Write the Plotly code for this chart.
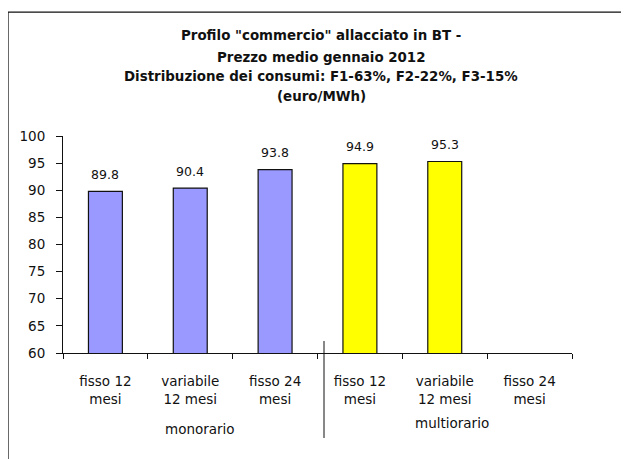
import plotly.graph_objects as go

categories = ["fisso 12 mesi (mono)", "variabile 12 mesi (mono)", "fisso 24 mesi (mono)",
              "fisso 12 mesi (multi)", "variabile 12 mesi (multi)", "fisso 24 mesi (multi)"]
tick_labels = ["fisso 12<br>mesi", "variabile<br>12 mesi", "fisso 24<br>mesi",
               "fisso 12<br>mesi", "variabile<br>12 mesi", "fisso 24<br>mesi"]
values = [89.8, 90.4, 93.8, 94.9, 95.3, None]
bar_colors = ["#9999FF", "#9999FF", "#9999FF", "#FFFF00", "#FFFF00", "#FFFF00"]
group_labels = ["monorario", "multiorario"]
title_lines = ['Profilo "commercio" allacciato in BT -',
               "Prezzo medio gennaio 2012",
               "Distribuzione dei consumi: F1-63%, F2-22%, F3-15%",
               "(euro/MWh)"]

FONT = "DejaVu Sans"
TXT = "#111111"

fig = go.Figure()
fig.add_trace(go.Bar(
    x=categories, y=values,
    marker=dict(color=bar_colors, line=dict(color="#111111", width=1.2)),
    width=0.4, hoverinfo="skip",
))

annotations = []
for c, v in zip(categories, values):
    if v is None:
        continue
    annotations.append(dict(x=c, y=v, xref="x", yref="y", text=f"{v:.1f}",
                            showarrow=False, yshift=17,
                            font=dict(family=FONT, size=12.5, color=TXT)))

# group labels
annotations.append(dict(x=1.11, y=-0.350, xref="x", yref="paper", text=group_labels[0],
                        xanchor="center", yanchor="middle", showarrow=False,
                        font=dict(family=FONT, size=13.5, color=TXT)))
annotations.append(dict(x=4.08, y=-0.3226, xref="x", yref="paper", text=group_labels[1],
                        xanchor="center", yanchor="middle", showarrow=False,
                        font=dict(family=FONT, size=13.5, color=TXT)))

# title lines
for line, yy in zip(title_lines, [1.461, 1.364, 1.276, 1.184]):
    annotations.append(dict(x=0.507, y=yy, xref="paper", yref="paper", text=f"<b>{line}</b>",
                            xanchor="center", yanchor="middle", showarrow=False,
                            font=dict(family=FONT, size=13.4, color=TXT)))

shapes = [
    # outer frame (extends beyond the image on right/bottom)
    dict(type="rect", xref="paper", yref="paper", x0=-0.108, x1=1.2, y0=-0.6, y1=1.571,
         line=dict(color="#111111", width=1.2), fillcolor="rgba(0,0,0,0)", layer="below"),
    # group divider
    dict(type="line", xref="paper", yref="paper", x0=0.5128, x1=0.5128, y0=0.0553, y1=-0.3917,
         line=dict(color="#111111", width=1)),
]

fig.update_layout(
    width=621, height=451,
    margin=dict(l=55, r=57, t=128, b=106),
    paper_bgcolor="white", plot_bgcolor="white",
    showlegend=False,
    annotations=annotations, shapes=shapes,
    font=dict(family=FONT, size=13, color=TXT),
)
fig.update_xaxes(
    type="category", range=[-0.5, 5.5],
    tickmode="array", tickvals=categories, ticktext=tick_labels,
    ticks="outside", ticklen=5, tickcolor="#111111", tickson="boundaries",
    showline=True, linecolor="#111111", linewidth=1,
    showgrid=False, zeroline=False,
    tickfont=dict(family=FONT, size=13.5, color=TXT),
    ticklabelstandoff=16,
)
fig.update_yaxes(
    range=[60, 100], dtick=5, tick0=60,
    ticks="outside", ticklen=6, tickcolor="#111111",
    showline=True, linecolor="#111111", linewidth=1,
    showgrid=False, zeroline=False,
    tickfont=dict(family=FONT, size=13.5, color=TXT),
    ticklabelstandoff=8,
)

fig.write_html("out.html")
